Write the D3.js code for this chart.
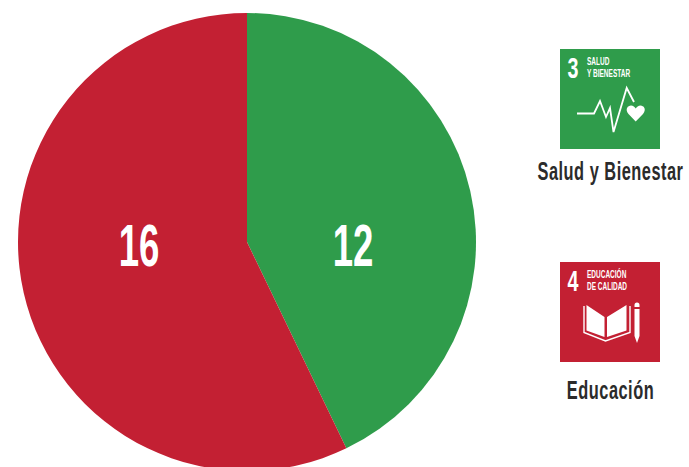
<!DOCTYPE html>
<html>
<head>
<meta charset="utf-8">
<script src="https://cdn.jsdelivr.net/npm/d3@7"></script>
<style>
  html, body { margin: 0; padding: 0; background: #fff; overflow: hidden; }
  text { font-family: "Liberation Sans", sans-serif; }
</style>
</head>
<body>
<div id="chart"></div>
<script>
// values
var categories = ["Salud y Bienestar", "Educación"];
var values = [12, 16];
var colors = ["#2f9c4b", "#c32033"];
var iconNumbers = ["3", "4"];
var iconLines = [["SALUD", "Y BIENESTAR"], ["EDUCACIÓN", "DE CALIDAD"]];

var width = 689, height = 467;
var svg = d3.select("#chart").append("svg")
  .attr("width", width)
  .attr("height", height);

// pie
var radius = 229;
var pie = d3.pie().sort(null).value(function (d) { return d; });
var arc = d3.arc().innerRadius(0).outerRadius(radius);
var labelArc = d3.arc().innerRadius(radius * 0.465).outerRadius(radius * 0.465);

var g = svg.append("g").attr("transform", "translate(247,242)");
var slices = pie(values);

g.selectAll("path")
  .data(slices)
  .enter().append("path")
  .attr("d", arc)
  .attr("fill", function (d, i) { return colors[i]; });

// condensed look: no condensed font installed, so squeeze the text
g.selectAll("text")
  .data(slices)
  .enter().append("text")
  .attr("transform", function (d, i) {
    var c = labelArc.centroid(d);
    return "translate(" + (i == 0 ? 106 : -108) + ",24) scale(0.62,1)";
  })
  .attr("text-anchor", "middle")
  .attr("fill", "#fff")
  .style("font-size", "59px")
  .style("font-weight", "bold")
  .text(function (d) { return d.value; });

// SDG tiles on the right
var tileX = 560, tileSize = 100, tileY = [49, 262], captionY = [180, 399];

categories.forEach(function (cat, i) {
  var tile = svg.append("g").attr("transform", "translate(" + tileX + "," + tileY[i] + ")");

  tile.append("rect")
    .attr("width", tileSize)
    .attr("height", tileSize)
    .attr("fill", colors[i]);

  tile.append("text")
    .attr("transform", "translate(7.5,29) scale(0.68,1)")
    .attr("fill", "#fff")
    .style("font-size", "29px")
    .style("font-weight", "bold")
    .text(iconNumbers[i]);

  iconLines[i].forEach(function (line, j) {
    tile.append("text")
      .attr("transform", "translate(27," + (16 + j * 12) + ") scale(0.62,1)")
      .attr("fill", "#fff")
      .style("font-size", "10.5px")
      .style("font-weight", "bold")
      .text(line);
  });

  svg.append("text")
    .attr("transform", "translate(610.5," + captionY[i] + ") scale(0.63,1)")
    .attr("text-anchor", "middle")
    .attr("fill", "#2b2b2b")
    .style("font-size", "26px")
    .style("font-weight", "bold")
    .style("letter-spacing", "0.8px")
    .text(cat);
});

// icon 3: heartbeat line and heart
var health = svg.append("g").attr("transform", "translate(" + tileX + "," + tileY[0] + ")");
health.append("path")
  .attr("d", "M17,64.5H34L40,52L46,68L50,59L53.5,83L66.7,39L74,53")
  .attr("fill", "none")
  .attr("stroke", "#fff")
  .attr("stroke-width", 1.8);
health.append("path")
  .attr("d", "M75.7,72.5L68.5,65C64.5,60 68,56.5 71,56.5C73,56.5 75,58 75.7,59.5C76.5,58 78.5,56.5 80.5,56.5C83.5,56.5 87,60 83,65Z")
  .attr("fill", "#fff");

// icon 4: open book and pencil
var book = svg.append("g").attr("transform", "translate(" + tileX + "," + tileY[1] + ")");
book.append("path")
  .attr("d", "M24,44V70.5L45.5,79L70,70.5V44")
  .attr("fill", "none")
  .attr("stroke", "#fff")
  .attr("stroke-width", 1.4);
book.append("path")
  .attr("d", "M26.5,43L44.5,55V75L26.5,68.5ZM66.5,43L47,55V75L66.5,68.5Z")
  .attr("fill", "#fff");
book.append("path")
  .attr("d", "M74.5,43a2.5,2.5 0 0 1 5,0V45H74.5ZM74.5,47H79.5V74L77,81L74.5,74Z")
  .attr("fill", "#fff");
</script>
</body>
</html>
